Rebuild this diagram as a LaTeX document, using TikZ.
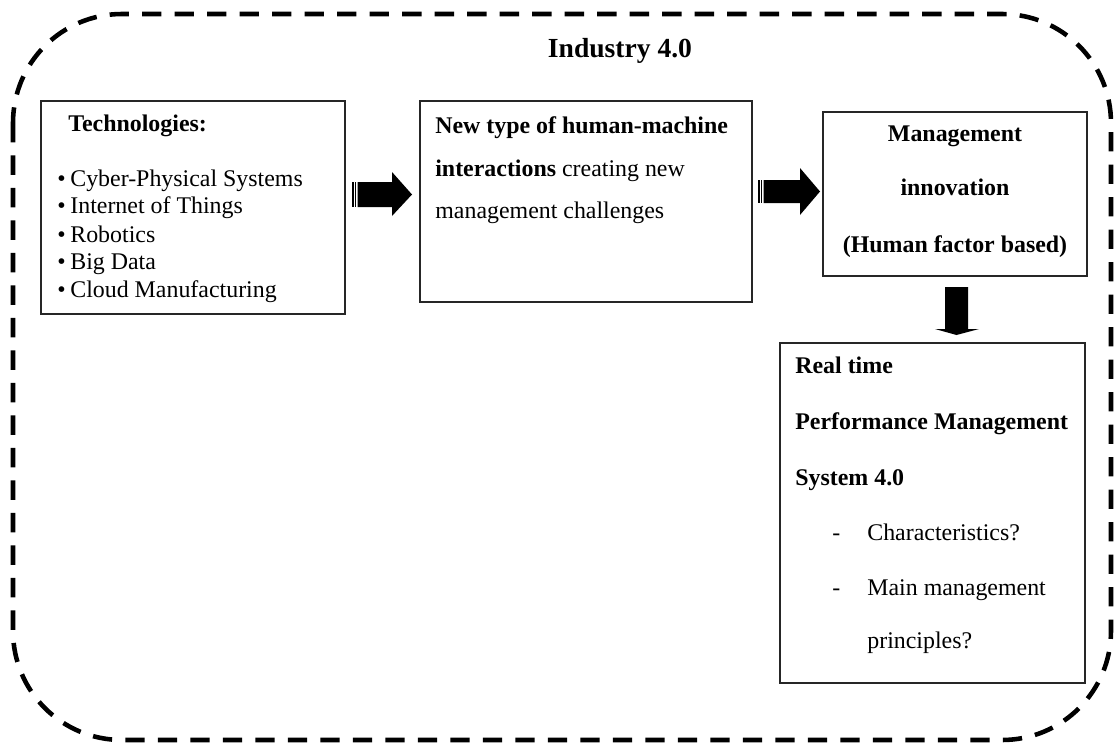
\documentclass[tikz,border=0pt]{standalone}
\usepackage{fontspec}
\setmainfont{Liberation Serif}
\begin{document}
\begin{tikzpicture}[x=0.02cm,y=-0.02cm,
  box/.style={draw=black!85,line width=0.9pt,fill=white},
  txt/.style={anchor=base west,inner sep=0pt,font=\fontsize{13.6}{16}\selectfont},
  btxt/.style={txt,font=\fontsize{13.6}{16}\selectfont\bfseries},
  ctxt/.style={btxt,anchor=base},
  frame/.style={line width=2.6pt,dash pattern=on 11pt off 7.5pt,rounded corners=62pt},
  blockarrow/.style={fill=black,draw=none}]
\useasboundingbox (0,0) rectangle (1117,747);

% outer dashed frame
\draw[frame] (13,14) rectangle (1111,740);
\node[ctxt,font=\fontsize{15.7}{18}\selectfont\bfseries] (title) at (620,57) {Industry 4.0};

% boxes
\draw[box] (41,101) rectangle (345,314);
\draw[box] (420,101) rectangle (752,302);
\draw[box] (823,112) rectangle (1087,276);
\draw[box] (780,343) rectangle (1085,683);

% box 1: technologies
\node[btxt] (tech) at (68,132) {Technologies:};
\foreach \y/\t [count=\i] in {186/Cyber-Physical Systems,213/Internet of Things,242/Robotics,269/Big Data,297/Cloud Manufacturing}{
  \node[txt] (bul\i) at (57,\y) {\textbullet};
  \node[txt] (tec\i) at (70,\y) {\t};
}

% box 2
\node[btxt] (hm1) at (435,133) {New type of human-machine};
\node[txt] (hm2) at (435,176) {\textbf{interactions} creating new};
\node[txt] (hm3) at (435,218) {management challenges};

% box 3
\node[ctxt] (mi1) at (955,141) {Management};
\node[ctxt] (mi2) at (955,195) {innovation};
\node[ctxt] (mi3) at (955,252) {(Human factor based)};

% box 4
\node[btxt] (pm1) at (795,373) {Real time};
\node[btxt] (pm2) at (795,429) {Performance Management};
\node[btxt] (pm3) at (795,485) {System 4.0};
\node[txt] (d1) at (832,540) {-};
\node[txt] (pm4) at (867,540) {Characteristics?};
\node[txt] (d2) at (832,595) {-};
\node[txt] (pm5) at (867,595) {Main management};
\node[txt] (pm6) at (867,648) {principles?};

% striped block arrows
\fill[blockarrow] (352,182) rectangle (353.6,207);
\fill[blockarrow] (355,182) rectangle (356.4,207);
\fill[blockarrow] (357.5,182) -- (392,182) -- (392,172) -- (412,194.5) -- (392,216) -- (392,207) -- (357.5,207) -- cycle;

\fill[blockarrow] (758,180) rectangle (759.6,203);
\fill[blockarrow] (761,180) rectangle (762.4,203);
\fill[blockarrow] (763.5,180) -- (800,180) -- (800,168) -- (820,191.5) -- (800,215) -- (800,203) -- (763.5,203) -- cycle;

% down arrow
\fill[blockarrow] (945,287) -- (968,287) -- (968,329) -- (979,329) -- (956.5,335) -- (935,329) -- (945,329) -- cycle;
\end{tikzpicture}
\end{document}
